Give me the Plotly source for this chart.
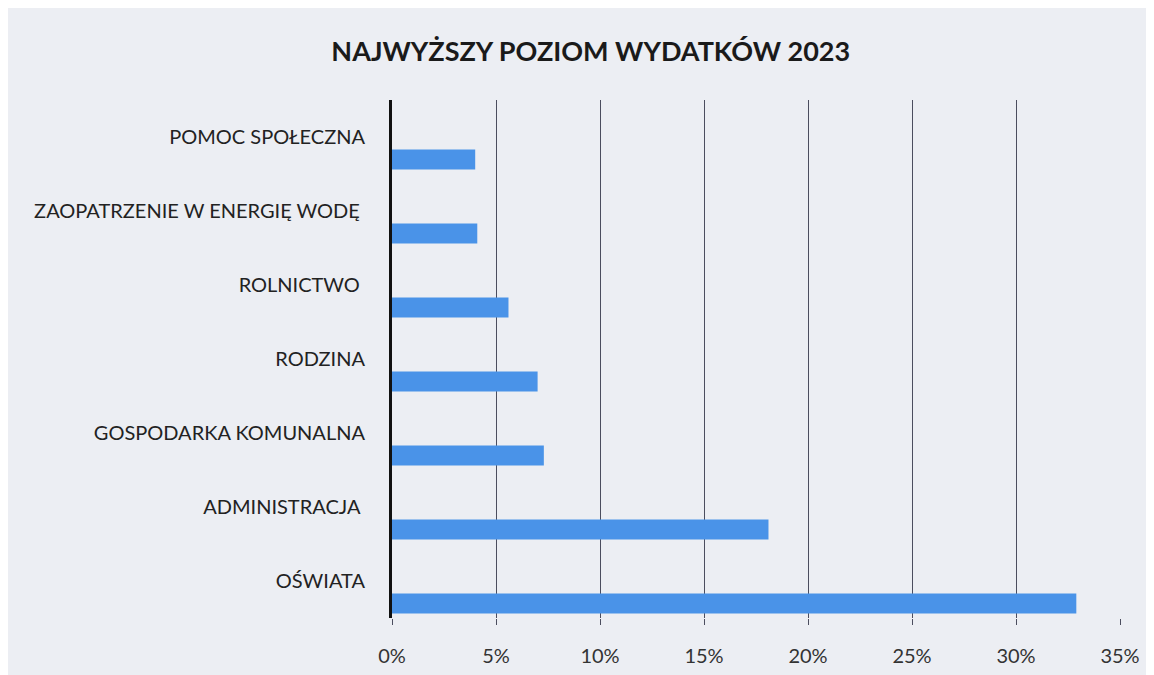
import plotly.graph_objects as go

# categories listed bottom -> top
categories = [
    "OŚWIATA",
    "ADMINISTRACJA ",
    "GOSPODARKA KOMUNALNA",
    "RODZINA",
    "ROLNICTWO ",
    "ZAOPATRZENIE W ENERGIĘ WODĘ ",
    "POMOC SPOŁECZNA",
]
shares = [32.9, 18.1, 7.3, 7.0, 5.6, 4.1, 4.0]
x_ticks = [0, 5, 10, 15, 20, 25, 30, 35]

BG = "#eceef3"

fig = go.Figure(
    go.Bar(
        x=shares,
        y=categories,
        orientation="h",
        marker_color="#4a93e8",
        marker_line_width=0,
        width=0.27,
        offset=-0.44,
        hoverinfo="skip",
    )
)

# page body adds ~8px offset, so margins are shifted to compensate
fig.update_layout(
    width=1154,
    height=675,
    margin=dict(l=384, r=42, t=92, b=65),
    paper_bgcolor=BG,
    plot_bgcolor=BG,
    showlegend=False,
    font=dict(family="Lato", color="#222"),
    title=dict(
        text="<b>NAJWYŻSZY POZIOM WYDATKÓW 2023</b>",
        x=0.505,
        xanchor="center",
        y=0.935,
        yanchor="middle",
        font=dict(size=27, color="#1a1a1a", family="Lato"),
    ),
)

fig.update_xaxes(
    range=[0, 35],
    tickvals=x_ticks,
    ticktext=[f"{t}%" for t in x_ticks],
    showgrid=True,
    gridcolor="#4b4d5e",
    gridwidth=1,
    zeroline=False,
    ticks="outside",
    ticklen=6,
    tickcolor="#4b4d5e",
    tickfont=dict(size=20, color="#333"),
    ticklabelstandoff=14,
    showline=False,
)

fig.update_yaxes(
    type="category",
    categoryorder="array",
    categoryarray=categories,
    range=[-0.5, 6.5],
    showgrid=False,
    showline=True,
    linecolor="#111",
    linewidth=3,
    ticks="",
    tickfont=dict(size=20, color="#222"),
    ticklabelstandoff=20,
)

fig.write_html("out.html")
